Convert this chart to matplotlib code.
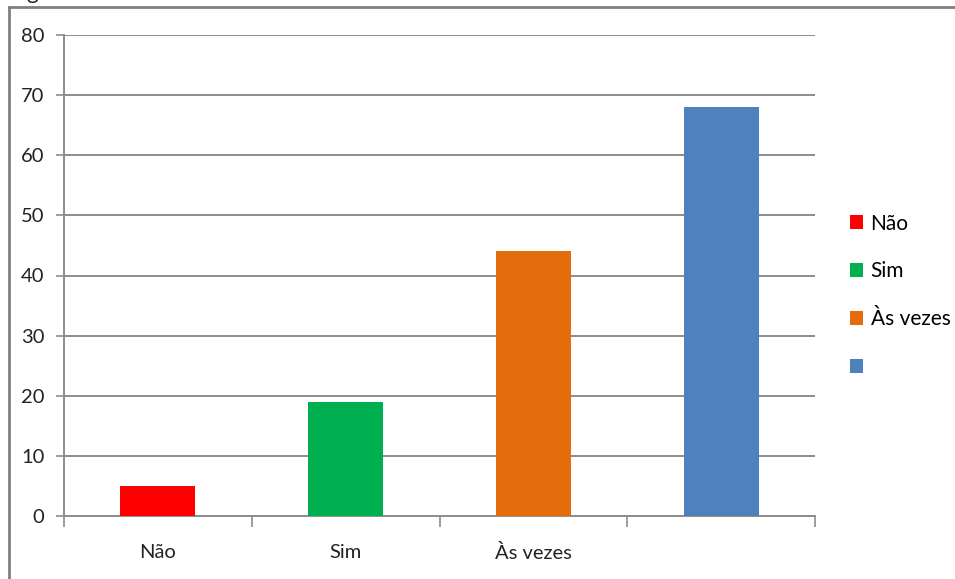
import matplotlib
matplotlib.use("Agg")
import matplotlib.pyplot as plt
from matplotlib.lines import Line2D
from matplotlib.patches import Patch

categories = ["Não", "Sim", "Às vezes", ""]
values = [5, 19, 44, 68]
colors = ["#FF0000", "#00B050", "#E46C0A", "#4F81BD"]
y_ticks = [0, 10, 20, 30, 40, 50, 60, 70, 80]

plt.rcParams["font.family"] = ["Lato", "DejaVu Sans"]

W, H = 955, 579
fig = plt.figure(figsize=(W / 100, H / 100), dpi=100)
ax = fig.add_axes([64 / W, 63 / H, (815 - 64) / W, (516 - 35) / H])

x = list(range(len(categories)))
ax.bar(x, values, width=0.4, color=colors, zorder=3)

ax.set_xlim(-0.5, len(categories) - 0.5)
ax.set_ylim(0, 80)
ax.set_yticks(y_ticks)
ax.set_yticklabels([str(v) for v in y_ticks], fontsize=14.5, color="#222222")
ax.yaxis.grid(True, color="#8c8c8c", linewidth=1.4, zorder=0)
ax.tick_params(axis="y", length=6, width=1.2, color="#8c8c8c", pad=8)

ax.set_xticks(x)
ax.set_xticklabels(categories[:3] + [""], fontsize=14.5, color="#222222")
ax.tick_params(axis="x", which="major", length=0, pad=20)
ax.set_xticks([i - 0.5 for i in range(len(categories) + 1)], minor=True)
ax.tick_params(axis="x", which="minor", length=8, width=1.2, color="#8c8c8c")

for side in ("top", "right"):
    ax.spines[side].set_visible(False)
for side in ("left", "bottom"):
    ax.spines[side].set_color("#8c8c8c")
    ax.spines[side].set_linewidth(1.4)

handles = [Patch(facecolor=c, edgecolor="none") for c in colors]
fig.legend(handles, [c for c in categories], loc="upper left",
           bbox_to_anchor=(831 / W, 1 - 195 / H), frameon=False,
           fontsize=15, handlelength=0.65, handleheight=0.65,
           handletextpad=0.35, labelspacing=1.33)

# outer chart frame
fig.add_artist(Line2D([8.5 / W, 1], [1 - 6.5 / H, 1 - 6.5 / H],
                      color="#808080", linewidth=2, transform=fig.transFigure))
fig.add_artist(Line2D([8.5 / W, 8.5 / W], [0, 1 - 6.5 / H],
                      color="#808080", linewidth=2, transform=fig.transFigure))
fig.text(26 / W, 1 + 1 / H, "g", fontsize=16, va="baseline", ha="left", color="#222222")

fig.savefig("out.png", dpi=100, facecolor="white")
